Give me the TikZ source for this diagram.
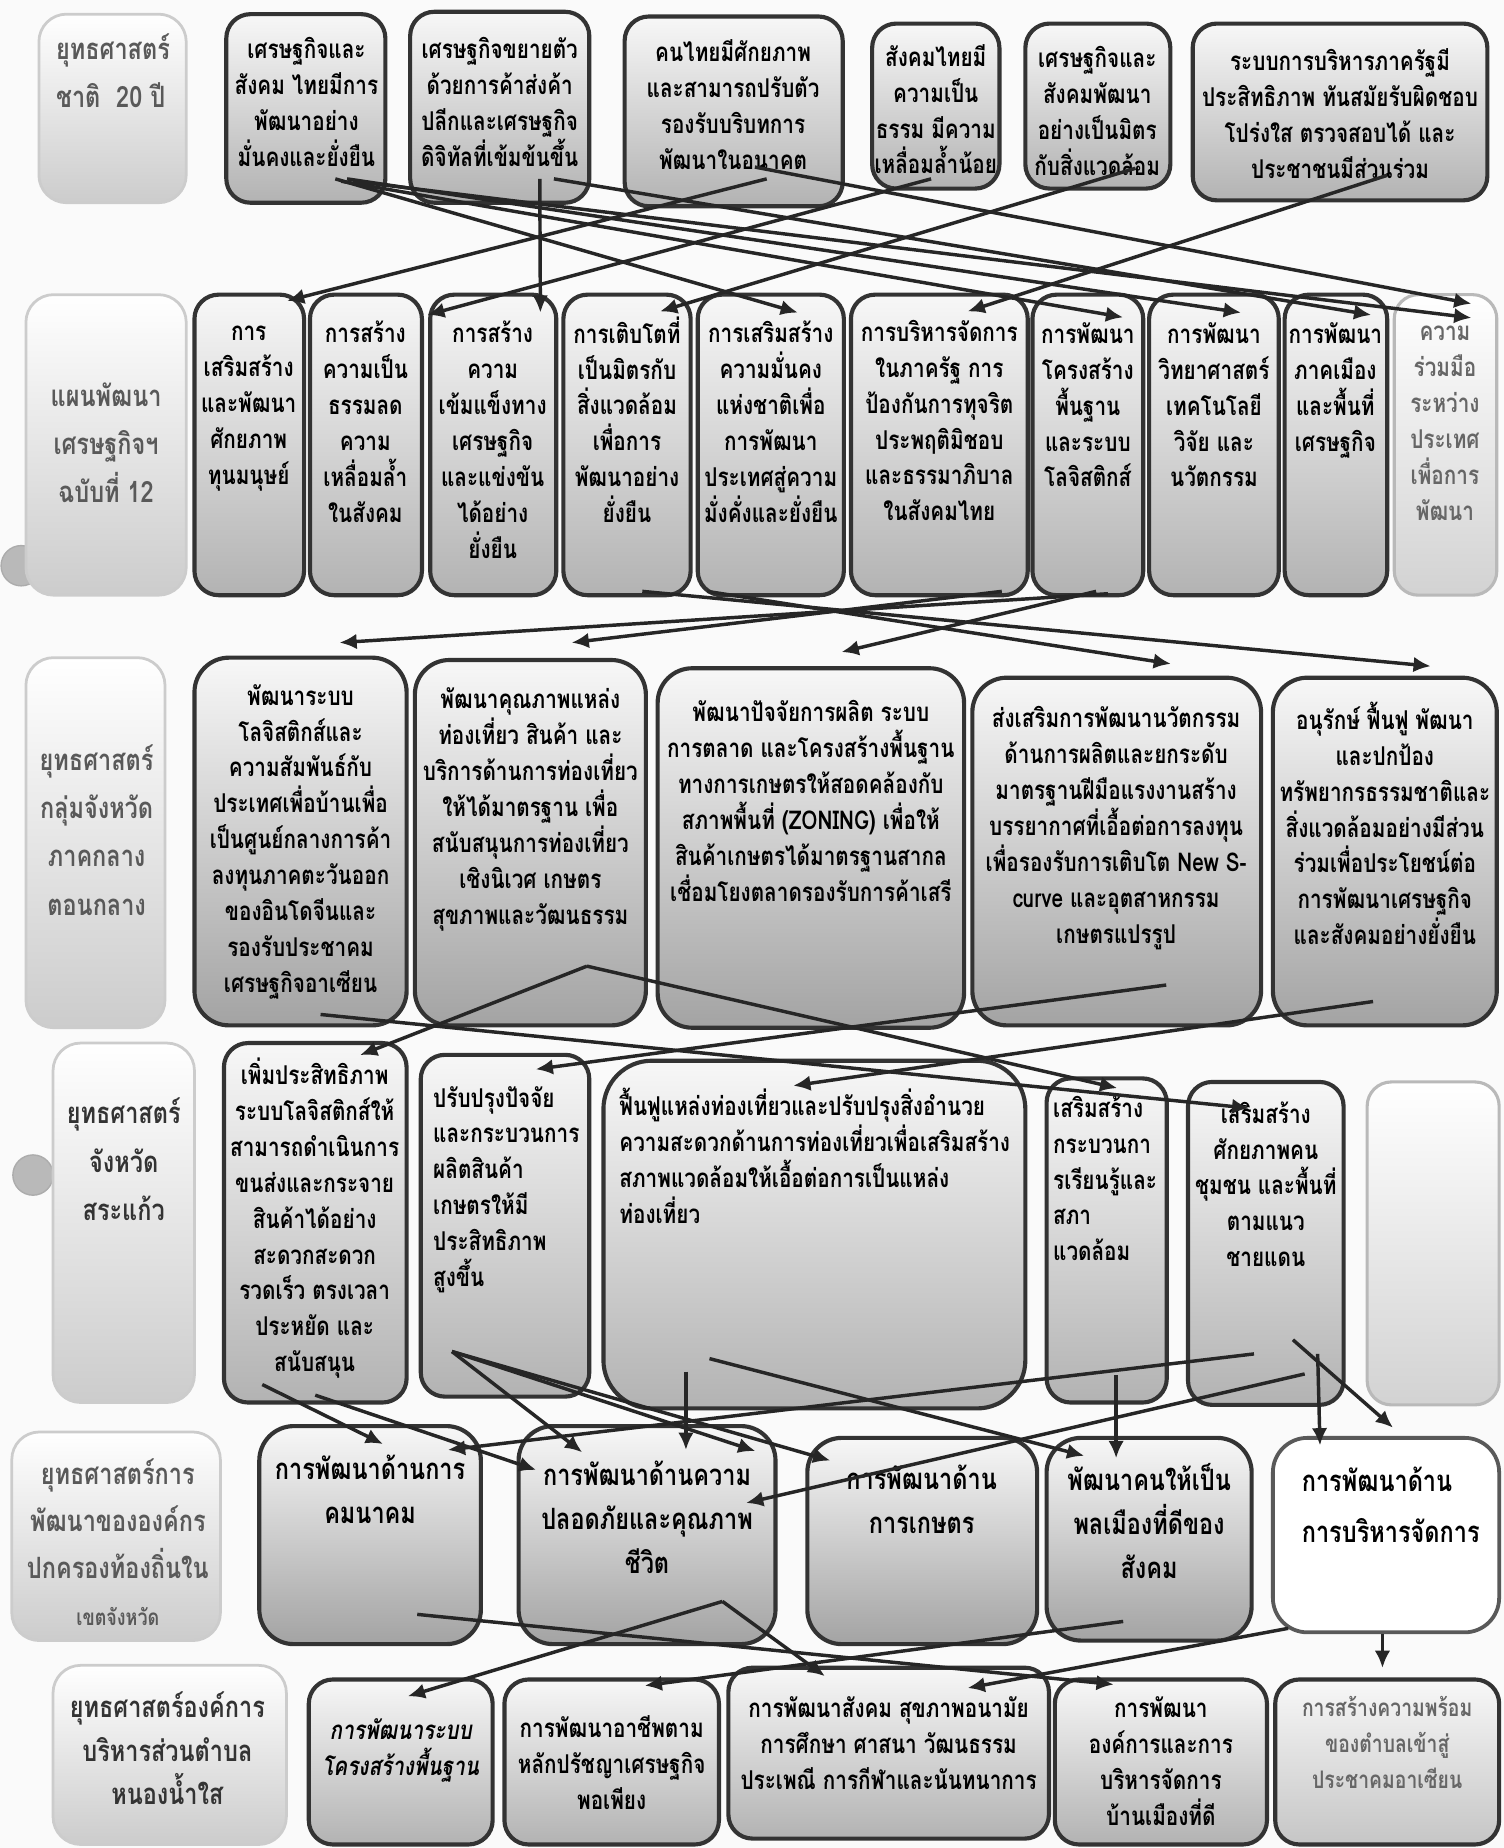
\documentclass[tikz,border=0pt]{standalone}
\usepackage{fontspec}
\setmainfont{Loma}[Script=Thai, FakeStretch=0.8]
\usetikzlibrary{arrows.meta, calc, fit}

\begin{document}
\begin{tikzpicture}[x=0.12mm, y=-0.12mm,
  box/.style={draw=black!80, line width=1.2pt, rounded corners=7pt, top color=gray!6, bottom color=gray!60, inner sep=0pt},
  dark/.style={box, rounded corners=10pt, bottom color=gray!72},
  lbl/.style={draw=gray!40, line width=0.8pt, rounded corners=8pt, top color=white, bottom color=gray!40, inner sep=0pt},
  pale/.style={draw=gray!55, line width=0.9pt, rounded corners=7pt, top color=white, bottom color=gray!35, inner sep=0pt},
  plain/.style={draw=black!65, line width=1.1pt, rounded corners=10pt, fill=white, inner sep=0pt},
  txt/.style={font=\bfseries\fontsize{7.5}{10.4}\selectfont, align=center, inner sep=0pt, anchor=north},
  ltxt/.style={txt, align=left, anchor=north west},
  lbltxt/.style={txt, font=\bfseries\fontsize{8.5}{14}\selectfont, text=black!65},
  big/.style={txt, font=\bfseries\fontsize{8.5}{12.8}\selectfont},
  hole/.style={circle, minimum size=4.1mm, fill=gray!55, draw=gray!65, inner sep=0pt},
  arr/.style={-{Latex[length=5pt, width=4.5pt]}, line width=1pt, black!85}]
\useasboundingbox (0,0) rectangle (1276,1568);
\fill[gray!4] (0,0) rectangle (1276,1568);

\node[hole] (h1) at (18,480) {};
\node[hole] (h2) at (28,997) {};

% national strategy
\node[lbl, fit={(33,12) (158,172)}] (l1) {};
\node[lbltxt, align=left, anchor=north west] (l1t) at (47,28) {ยุทธศาสตร์\\ชาติ~~20 ปี};
\node[box, fit={(192,12) (327,172)}] (a1) {};
\node[txt] (a1t) at (260,31) {เศรษฐกิจและ\\สังคม ไทยมีการ\\พัฒนาอย่าง\\มั่นคงและยั่งยืน};
\node[box, fit={(348,10) (500,172)}] (a2) {};
\node[txt] (a2t) at (424,31) {เศรษฐกิจขยายตัว\\ด้วยการค้าส่งค้า\\ปลีกและเศรษฐกิจ\\ดิจิทัลที่เข้มข้นขึ้น};
\node[box, fit={(530,14) (715,175)}] (a3) {};
\node[txt] (a3t) at (622,33) {คนไทยมีศักยภาพ\\และสามารถปรับตัว\\รองรับบริบทการ\\พัฒนาในอนาคต};
\node[box, fit={(740,20) (848,160)}] (a4) {};
\node[txt] (a4t) at (794,37) {สังคมไทยมี\\ความเป็น\\ธรรม มีความ\\เหลื่อมล้ำน้อย};
\node[box, fit={(870,20) (993,160)}] (a5) {};
\node[txt] (a5t) at (931,39) {เศรษฐกิจและ\\สังคมพัฒนา\\อย่างเป็นมิตร\\กับสิ่งแวดล้อม};
\node[box, fit={(1012,20) (1262,170)}] (a6) {};
\node[txt] (a6t) at (1137,41) {ระบบการบริหารภาครัฐมี\\ประสิทธิภาพ ทันสมัยรับผิดชอบ\\โปร่งใส ตรวจสอบได้ และ\\ประชาชนมีส่วนร่วม};

% national plan 12
\node[lbl, fit={(22,250) (158,505)}] (l2) {};
\node[lbltxt] (l2t) at (90,324) {แผนพัฒนา\\เศรษฐกิจฯ\\ฉบับที่ 12};
\node[box, fit={(165,250) (258,505)}] (b1) {};
\node[txt] (b1t) at (211,276) {การ\\เสริมสร้าง\\และพัฒนา\\ศักยภาพ\\ทุนมนุษย์};
\node[box, fit={(263,250) (358,505)}] (b2) {};
\node[txt] (b2t) at (310,272) {การสร้าง\\ความเป็น\\ธรรมลด\\ความ\\เหลื่อมล้ำ\\ในสังคม};
\node[box, fit={(365,250) (472,505)}] (b3) {};
\node[txt] (b3t) at (418,272) {การสร้าง\\ความ\\เข้มแข็งทาง\\เศรษฐกิจ\\และแข่งขัน\\ได้อย่าง\\ยั่งยืน};
\node[box, fit={(478,250) (586,505)}] (b4) {};
\node[txt] (b4t) at (532,268) {การเติบโตที่\\เป็นมิตรกับ\\สิ่งแวดล้อม\\เพื่อการ\\พัฒนาอย่าง\\ยั่งยืน};
\node[box, fit={(592,250) (716,505)}] (b5) {};
\node[txt] (b5t) at (654,272) {การเสริมสร้าง\\ความมั่นคง\\แห่งชาติเพื่อ\\การพัฒนา\\ประเทศสู่ความ\\มั่งคั่งและยั่งยืน};
\node[box, fit={(722,250) (872,505)}] (b6) {};
\node[txt] (b6t) at (797,271) {การบริหารจัดการ\\ในภาครัฐ การ\\ป้องกันการทุจริต\\ประพฤติมิชอบ\\และธรรมาภิบาล\\ในสังคมไทย};
\node[box, fit={(876,250) (970,505)}] (b7) {};
\node[txt] (b7t) at (923,273) {การพัฒนา\\โครงสร้าง\\พื้นฐาน\\และระบบ\\โลจิสติกส์};
\node[box, fit={(975,250) (1085,505)}] (b8) {};
\node[txt] (b8t) at (1030,273) {การพัฒนา\\วิทยาศาสตร์\\เทคโนโลยี\\วิจัย และ\\นวัตกรรม};
\node[box, fit={(1090,250) (1177,505)}] (b9) {};
\node[txt] (b9t) at (1133,273) {การพัฒนา\\ภาคเมือง\\และพื้นที่\\เศรษฐกิจ};
\node[pale, fit={(1183,250) (1270,505)}] (b10) {};
\node[txt, text=black!60] (b10t) at (1226,276) {ความ\\ร่วมมือ\\ระหว่าง\\ประเทศ\\เพื่อการ\\พัฒนา};

% province group
\node[lbl, fit={(22,558) (140,872)}] (l3) {};
\node[lbltxt] (l3t) at (82,631) {ยุทธศาสตร์\\กลุ่มจังหวัด\\ภาคกลาง\\ตอนกลาง};
\node[dark, fit={(165,558) (345,870)}] (c1) {};
\node[txt] (c1t) at (255,580) {พัฒนาระบบ\\โลจิสติกส์และ\\ความสัมพันธ์กับ\\ประเทศเพื่อบ้านเพื่อ\\เป็นศูนย์กลางการค้า\\ลงทุนภาคตะวันออก\\ของอินโดจีนและ\\รองรับประชาคม\\เศรษฐกิจอาเซียน};
\node[dark, fit={(352,560) (548,870)}] (c2) {};
\node[txt] (c2t) at (450,583) {พัฒนาคุณภาพแหล่ง\\ท่องเที่ยว สินค้า และ\\บริการด้านการท่องเที่ยว\\ให้ได้มาตรฐาน เพื่อ\\สนับสนุนการท่องเที่ยว\\เชิงนิเวศ เกษตร\\สุขภาพและวัฒนธรรม};
\node[dark, fit={(558,567) (818,872)}] (c3) {};
\node[txt] (c3t) at (688,594) {พัฒนาปัจจัยการผลิต ระบบ\\การตลาด และโครงสร้างพื้นฐาน\\ทางการเกษตรให้สอดคล้องกับ\\สภาพพื้นที่ (ZONING) เพื่อให้\\สินค้าเกษตรได้มาตรฐานสากล\\เชื่อมโยงตลาดรองรับการค้าเสรี};
\node[dark, fit={(825,575) (1070,870)}] (c4) {};
\node[txt] (c4t) at (947,599) {ส่งเสริมการพัฒนานวัตกรรม\\ด้านการผลิตและยกระดับ\\มาตรฐานฝีมือแรงงานสร้าง\\บรรยากาศที่เอื้อต่อการลงทุน\\เพื่อรองรับการเติบโต New S-\\curve และอุตสาหกรรม\\เกษตรแปรรูป};
\node[dark, fit={(1080,575) (1270,870)}] (c5) {};
\node[txt] (c5t) at (1175,595) {อนุรักษ์ ฟื้นฟู พัฒนา\\และปกป้อง\\ทรัพยากรธรรมชาติและ\\สิ่งแวดล้อมอย่างมีส่วน\\ร่วมเพื่อประโยชน์ต่อ\\การพัฒนาเศรษฐกิจ\\และสังคมอย่างยั่งยืน};

% province
\node[lbl, fit={(45,885) (165,1190)}] (l4) {};
\node[lbltxt, text=black!80] (l4t) at (105,931) {ยุทธศาสตร์\\จังหวัด\\สระแก้ว};
\node[box, fit={(190,885) (345,1190)}] (d1) {};
\node[txt] (d1t) at (267,897) {เพิ่มประสิทธิภาพ\\ระบบโลจิสติกส์ให้\\สามารถดำเนินการ\\ขนส่งและกระจาย\\สินค้าได้อย่าง\\สะดวกสะดวก\\รวดเร็ว ตรงเวลา\\ประหยัด และ\\สนับสนุน};
\node[box, fit={(357,895) (500,1185)}] (d2) {};
\node[ltxt] (d2t) at (367,921) {ปรับปรุงปัจจัย\\และกระบวนการ\\ผลิตสินค้า\\เกษตรให้มี\\ประสิทธิภาพ\\สูงขึ้น};
\node[box, rounded corners=14pt, fit={(512,900) (870,1195)}] (d3) {};
\node[ltxt] (d3t) at (525,923) {ฟื้นฟูแหล่งท่องเที่ยวและปรับปรุงสิ่งอำนวย\\ความสะดวกด้านการท่องเที่ยวเพื่อเสริมสร้าง\\สภาพแวดล้อมให้เอื้อต่อการเป็นแหล่ง\\ท่องเที่ยว};
\node[box, fit={(888,915) (990,1190)}] (d4) {};
\node[ltxt] (d4t) at (893,929) {เสริมสร้าง\\กระบวนกา\\รเรียนรู้และ\\สภา\\แวดล้อม};
\node[box, fit={(1008,918) (1140,1192)}] (d5) {};
\node[txt] (d5t) at (1074,934) {เสริมสร้าง\\ศักยภาพคน\\ชุมชน และพื้นที่\\ตามแนว\\ชายแดน};
\node[pale, fit={(1160,918) (1272,1192)}] (d6) {};

% local government
\node[lbl, fit={(10,1215) (187,1392)}] (l5) {};
\node[lbltxt, font=\bfseries\fontsize{8.5}{13.6}\selectfont] (l5t) at (100,1237) {ยุทธศาสตร์การ\\พัฒนาขององค์กร\\ปกครองท้องถิ่นใน\\{\fontsize{6.5}{8}\selectfont เขตจังหวัด}};
\node[dark, fit={(220,1210) (408,1395)}] (e1) {};
\node[big] (e1t) at (314,1234) {การพัฒนาด้านการ\\คมนาคม};
\node[dark, fit={(440,1210) (658,1395)}] (e2) {};
\node[big] (e2t) at (549,1239) {การพัฒนาด้านความ\\ปลอดภัยและคุณภาพ\\ชีวิต};
\node[dark, fit={(685,1220) (880,1395)}] (e3) {};
\node[big] (e3t) at (782,1242) {การพัฒนาด้าน\\การเกษตร};
\node[dark, fit={(888,1220) (1062,1392)}] (e4) {};
\node[big] (e4t) at (975,1241) {พัฒนาคนให้เป็น\\พลเมืองที่ดีของ\\สังคม};
\node[plain, fit={(1080,1220) (1272,1385)}] (e5) {};
\node[big, align=left, anchor=north west] (e5t) at (1104,1244) {การพัฒนาด้าน\\[2pt]การบริหารจัดการ};

% subdistrict
\node[lbl, fit={(45,1413) (243,1565)}] (l6) {};
\node[lbltxt, text=black!80, font=\bfseries\fontsize{8.5}{12.6}\selectfont] (l6t) at (142,1435) {ยุทธศาสตร์องค์การ\\บริหารส่วนตำบล\\หนองน้ำใส};
\node[box, fit={(262,1425) (418,1565)}] (f1) {};
\node[txt, font=\bfseries\itshape\fontsize{7.5}{10.4}\selectfont] (f1t) at (340,1458) {การพัฒนาระบบ\\โครงสร้างพื้นฐาน};
\node[box, fit={(428,1425) (610,1565)}] (f2) {};
\node[txt] (f2t) at (519,1455) {การพัฒนาอาชีพตาม\\หลักปรัชญาเศรษฐกิจ\\พอเพียง};
\node[box, fit={(618,1415) (890,1560)}] (f3) {};
\node[txt] (f3t) at (754,1439) {การพัฒนาสังคม สุขภาพอนามัย\\การศึกษา ศาสนา วัฒนธรรม\\ประเพณี การกีฬาและนันทนาการ};
\node[box, fit={(895,1425) (1075,1565)}] (f4) {};
\node[txt] (f4t) at (985,1439) {การพัฒนา\\องค์การและการ\\บริหารจัดการ\\บ้านเมืองที่ดี};
\node[box, bottom color=gray!45, fit={(1082,1425) (1272,1565)}] (f5) {};
\node[txt, text=black!60, font=\bfseries\fontsize{7}{10.4}\selectfont] (f5t) at (1177,1439) {การสร้างความพร้อม\\ของตำบลเข้าสู่\\ประชาคมอาเซียน};

% national strategy -> plan
\draw[arr] ($(a3.south)+(28,-25)$) -- ($(b1.north)+(32,7)$);
\draw[arr] ($(a4.south)+(-4,-10)$) -- ($(b3.north)+(-56,19)$);
\draw[arr] ($(a5.south)+(32,-19)$) -- ($(b4.north)+(28,16)$);
\draw[arr] ($(a6.south)+(40,-23)$) -- ($(b6.north)+(24,16)$);
\draw[arr] ($(a1.south)+(25,-22)$) -- ($(b5.north)+(23,17)$);
\draw[arr] ($(a1.south)+(30,-20)$) -- ($(b7.north)+(30,21)$);
\draw[arr] ($(a1.south)+(35,-22)$) -- ($(b8.north)+(23,17)$);
\draw[arr] ($(a1.south)+(40,-20)$) -- ($(b10.north)+(22,21)$);
\draw[arr] ($(a2.south)+(34,-22)$) -- ($(b3.north)+(40,17)$);
\draw[arr] ($(a2.south)+(46,-22)$) -- ($(b9.north)+(30,19)$);
\draw[arr] ($(a3.south)+(18,-35)$) -- ($(b10.north)+(22,9)$);

% plan -> province group
\draw[arr] ($(b7.south)+(17,-3)$) -- ($(c1.north)+(33,-11)$);
\draw[arr] ($(b6.south)+(53,-5)$) -- ($(c2.north)+(35,-13)$);
\draw[arr] ($(b7.south)+(7,-5)$) -- ($(c3.north)+(26,-12)$);
\draw[arr] ($(b5.south)+(-54,-5)$) -- ($(c4.north)+(46,-10)$);
\draw[arr] ($(b4.south)+(13,-5)$) -- ($(c5.north)+(39,-8)$);

% province group -> province
\draw[arr] ($(c2.south)+(48,-52)$) -- ($(d1.north)+(38,12)$);
\draw[arr] ($(c2.south)+(48,-52)$) -- ($(d4.north)+(9,10)$);
\draw[arr] ($(c1.south)+(17,-11)$) -- ($(d5.north)+(-14,24)$);
\draw[arr] ($(c4.south)+(42,-36)$) -- ($(d2.north)+(26,14)$);
\draw[arr] ($(c5.south)+(-10,-22)$) -- ($(d3.north)+(-18,23)$);

% province -> local government
\draw[arr] ($(d1.south)+(-45,-17)$) -- ($(e1.north)+(11,17)$);
\draw[arr] ($(d1.south)+(0,-8)$) -- ($(e2.north)+(-94,39)$);
\draw[arr] ($(d2.south)+(-45,-40)$) -- ($(e2.north)+(-55,24)$);
\draw[arr] ($(d2.south)+(-45,-40)$) -- ($(e2.north)+(92,23)$);
\draw[arr] ($(d2.south)+(-45,-40)$) -- ($(e3.north)+(-78,21)$);
\draw[arr] ($(d3.south)+(-109,-33)$) -- ($(e2.north)+(33,22)$);
\draw[arr] ($(d3.south)+(-89,-44)$) -- ($(e4.north)+(-55,17)$);
\draw[arr] ($(d4.south)+(8,-25)$) -- ($(e4.north)+(-28,19)$);
\draw[arr] ($(d5.south)+(-10,-45)$) -- ($(e1.north)+(66,22)$);
\draw[arr] ($(d5.south)+(33,-28)$) -- ($(e2.north)+(84,67)$);
\draw[arr] ($(d5.south)+(44,-45)$) -- ($(e5.north)+(-56,8)$);
\draw[arr] ($(d5.south)+(23,-57)$) -- ($(e5.north)+(6,-7)$);

% local government -> subdistrict
\draw[arr] ($(e2.south)+(64,-38)$) -- ($(f1.north)+(6,16)$);
\draw[arr] ($(e2.south)+(64,-38)$) -- ($(f3.north)+(-54,9)$);
\draw[arr] ($(e4.south)+(-22,-18)$) -- ($(f2.north)+(28,7)$);
\draw[arr] ($(e5.south)+(-83,-5)$) -- ($(f3.north)+(67,19)$);
\draw[arr] ($(e1.south)+(40,-27)$) -- ($(f4.north)+(-40,6)$);
\draw[arr] ($(e5.south)+(-3,0)$) -- ($(f5.north)+(-4,-8)$);
\end{tikzpicture}
\end{document}
